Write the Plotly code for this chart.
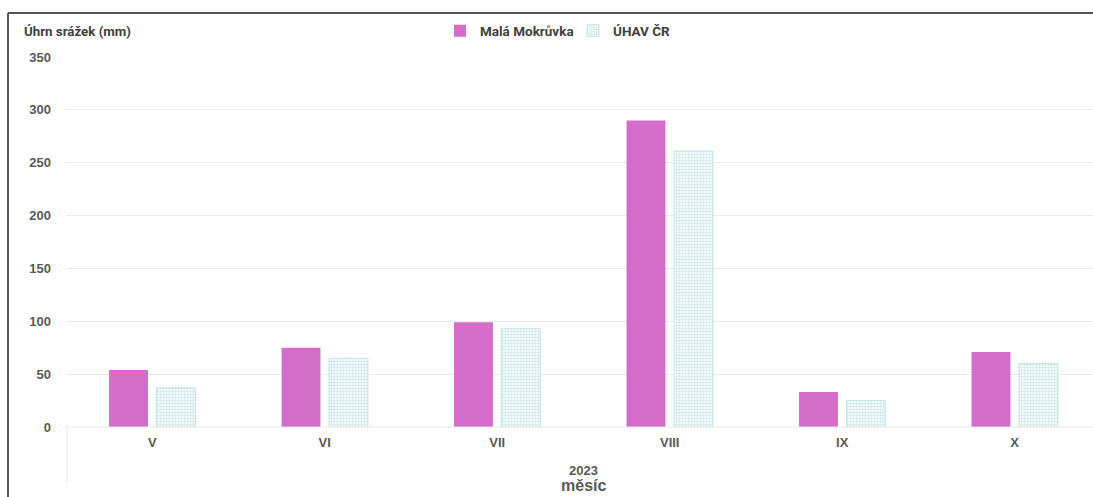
import plotly.graph_objects as go

months = ["V", "VI", "VII", "VIII", "IX", "X"]
mala_mokruvka = [54, 75, 99, 290, 33, 71]
uhav_cr = [37, 65, 93, 261, 25, 60]

W, H = 1093, 497
L, T, B = 66, 57, 70
PW = W - L
PH = H - T - B

def px(x):
    return (x - L) / PW

def py(y):
    return (H - B - y) / PH

fig = go.Figure()
fig.add_trace(go.Bar(
    x=months, y=mala_mokruvka, name="Malá Mokrůvka",
    marker=dict(color="#D46CC9", line=dict(width=0)),
))
fig.add_trace(go.Bar(
    x=months, y=uhav_cr, name="ÚHAV ČR",
    marker=dict(color="white",
                pattern=dict(shape=".", fgcolor="#9CCFD3", bgcolor="#FFFFFF", size=3, solidity=0.5),
                line=dict(color="#C4E4E7", width=1)),
))

grey_text = "#595959"
fig.update_layout(
    width=W, height=H,
    margin=dict(l=L, r=0, t=T, b=B, autoexpand=False),
    plot_bgcolor="white", paper_bgcolor="white",
    barmode="group", bargap=0.45, bargroupgap=0.18,
    font=dict(family="Liberation Sans, Arial, sans-serif", size=13, color=grey_text),
    showlegend=True,
    legend=dict(orientation="h", x=px(440), y=py(31), xanchor="left", yanchor="middle",
                font=dict(family="Roboto, sans-serif", size=13.5, color="#404040", weight="bold"),
                itemwidth=30, entrywidth=88, entrywidthmode="pixels",
                bgcolor="rgba(0,0,0,0)"),
    xaxis=dict(range=[-0.5, 5.454], showgrid=False, showline=False, zeroline=False,
               ticks="", tickfont=dict(size=13, color=grey_text, weight="bold"),
               ticklabelstandoff=6),
    yaxis=dict(range=[0, 350], dtick=50, showgrid=True, gridcolor="#EAEAEA", gridwidth=1,
               zeroline=False, showline=False, ticks="",
               tickfont=dict(size=13, color=grey_text, weight="bold"),
               ticklabelstandoff=14),
)

shapes = [
    # outer frame (left and top)
    dict(type="line", xref="paper", yref="paper", x0=px(8), x1=px(8), y0=py(13), y1=py(497),
         line=dict(color="#555555", width=2)),
    dict(type="line", xref="paper", yref="paper", x0=px(8), x1=px(1093), y0=py(13), y1=py(13),
         line=dict(color="#555555", width=2)),
    # baseline and category divider
    dict(type="line", xref="paper", yref="paper", x0=0, x1=1, y0=0, y1=0,
         line=dict(color="#E6E6E6", width=1)),
    dict(type="line", xref="paper", yref="paper", x0=px(67), x1=px(67), y0=0, y1=py(482),
         line=dict(color="#E6E6E6", width=1)),
]
fig.update_layout(shapes=shapes)

fig.add_annotation(text="Úhrn srážek (mm)", xref="paper", yref="paper", x=px(22), y=py(31),
                   xanchor="left", yanchor="middle", showarrow=False,
                   font=dict(family="Roboto, sans-serif", size=13.3, color="#404040", weight="bold"))
fig.add_annotation(text="2023", xref="paper", yref="paper", x=px(583), y=py(470),
                   xanchor="center", yanchor="middle", showarrow=False,
                   font=dict(size=13, color=grey_text, weight="bold"))
fig.add_annotation(text="měsíc", xref="paper", yref="paper", x=px(583), y=py(485),
                   xanchor="center", yanchor="middle", showarrow=False,
                   font=dict(size=16, color=grey_text, weight="bold"))

fig.write_html("out.html", config={"displayModeBar": False},
               post_script="document.body.style.margin='0';document.body.style.overflow='hidden';")
